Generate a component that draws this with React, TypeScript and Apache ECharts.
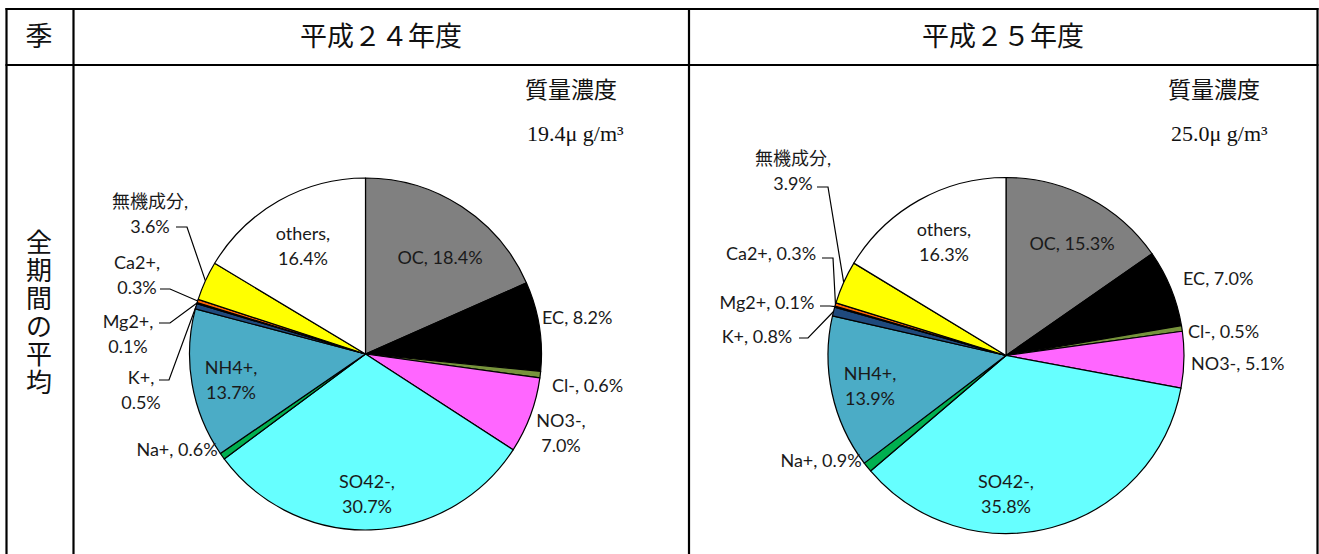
import React, { useEffect, useRef } from "react";
import * as echarts from "echarts";

// Components, in clockwise order from 12 o'clock
const components = ["OC", "EC", "Cl-", "NO3-", "SO42-", "Na+", "NH4+", "K+", "Mg2+", "Ca2+", "無機成分", "others"];
const sliceColors = ["#808080", "#000000", "#77933C", "#FF66FF", "#66FFFF", "#00B050", "#4BACC6", "#1F497D", "#404040", "#FF6600", "#FFFF00", "#FFFFFF"];

// Share of each component (%)
const shareH24 = [18.4, 8.2, 0.6, 7.0, 30.7, 0.6, 13.7, 0.5, 0.1, 0.3, 3.6, 16.4];
const shareH25 = [15.3, 7.0, 0.5, 5.1, 35.8, 0.9, 13.9, 0.8, 0.1, 0.3, 3.9, 16.3];

// Mass concentration (μg/m3)
const massH24 = 19.4;
const massH25 = 25.0;

const yearTitles = ["平成２４年度", "平成２５年度"];
const seasonTitle = "季";
const periodTitle = "全期間の平均";
const massTitle = "質量濃度";

const LABEL_FONT = "Lato, 'Noto Sans CJK JP', sans-serif";
const MINCHO = "'Liberation Serif', 'Noto Sans CJK JP', serif";

type Spot = {
  x: number;
  y: number;
  align: "left" | "center";
  wrap?: boolean;
  inside?: boolean;
  leader?: [number, number, number]; // [labelSideX, elbowX, y]
};

const spotsH24: Spot[] = [
  { x: 440, y: 257, align: "center", inside: true },
  { x: 542, y: 317, align: "left" },
  { x: 552, y: 385, align: "left" },
  { x: 561, y: 432, align: "center", wrap: true },
  { x: 367, y: 493, align: "center", wrap: true, inside: true },
  { x: 177, y: 449, align: "center" },
  { x: 231, y: 379, align: "center", wrap: true, inside: true },
  { x: 141, y: 389, align: "center", wrap: true, leader: [159, 169, 380] },
  { x: 128, y: 333, align: "center", wrap: true, leader: [159, 170, 323] },
  { x: 137, y: 274, align: "center", wrap: true, leader: [160, 170, 289] },
  { x: 150, y: 213, align: "center", wrap: true, leader: [176, 187, 227] },
  { x: 303, y: 245, align: "center", wrap: true, inside: true },
];

const spotsH25: Spot[] = [
  { x: 1072, y: 243, align: "center", inside: true },
  { x: 1183, y: 278, align: "left" },
  { x: 1188, y: 331, align: "left" },
  { x: 1191, y: 363, align: "left" },
  { x: 1006, y: 493, align: "center", wrap: true, inside: true },
  { x: 821, y: 460, align: "center" },
  { x: 870, y: 385, align: "center", wrap: true, inside: true },
  { x: 757, y: 336, align: "center", leader: [799, 808, 338] },
  { x: 767, y: 302, align: "center", leader: [820, 830, 306] },
  { x: 771, y: 253, align: "center", leader: [822, 833, 258] },
  { x: 793, y: 170, align: "center", wrap: true, leader: [817, 828, 187] },
  { x: 944, y: 241, align: "center", wrap: true, inside: true },
];

function pieSeries(values: number[], spots: Spot[], center: [number, number], radius: number) {
  return {
    type: "pie",
    center,
    radius,
    startAngle: 90,
    clockwise: true,
    avoidLabelOverlap: false,
    silent: true,
    emphasis: { disabled: true },
    itemStyle: { borderColor: "#000", borderWidth: 1.2 },
    label: {
      show: true,
      color: "#1a1a1a",
      fontSize: 18,
      lineHeight: 25,
      fontFamily: LABEL_FONT,
      formatter: (p: any) => {
        const s = spots[p.dataIndex];
        return `${p.name},${s.wrap ? "\n" : " "}${Number(p.value).toFixed(1)}%`;
      },
    },
    labelLine: { show: false },
    labelLayout: (p: any) => {
      const s = spots[p.dataIndex];
      const out: any = { x: s.x, y: s.y, align: s.align, verticalAlign: "middle" };
      if (s.leader && p.labelLinePoints) {
        const edge = p.labelLinePoints[0];
        out.labelLinePoints = [
          [edge[0], edge[1]],
          [s.leader[1], s.leader[2]],
          [s.leader[0], s.leader[2]],
        ];
      }
      return out;
    },
    data: values.map((v, i) => ({
      name: components[i],
      value: v,
      itemStyle: { color: sliceColors[i] },
      label: { position: spots[i].inside ? "inside" : "outside" },
      labelLine: {
        show: !!spots[i].leader,
        length: 10,
        length2: 10,
        lineStyle: { color: "#000", width: 1.2 },
      },
    })),
  };
}

function tableGraphics() {
  const ls = { stroke: "#000", lineWidth: 2.2 };
  const vLine = (x: number) => ({ type: "line", shape: { x1: x, y1: 8, x2: x, y2: 560 }, style: ls, silent: true });
  const hLine = (y: number) => ({ type: "line", shape: { x1: 5.5, y1: y, x2: 1318.5, y2: y }, style: ls, silent: true });
  const text = (t: string, x: number, y: number, font: string, extra: any = {}) => ({
    type: "text",
    silent: true,
    style: {
      text: t,
      x,
      y,
      font,
      fill: "#111",
      align: "center",
      verticalAlign: "middle",
      textAlign: "center",
      textVerticalAlign: "middle",
      ...extra,
    },
  });
  const leftText = (t: string, x: number, y: number, font: string, extra: any = {}) =>
    text(t, x, y, font, { align: "left", textAlign: "left", ...extra });

  return [
    vLine(6.5),
    vLine(73.5),
    vLine(689),
    vLine(1317.5),
    hLine(9),
    hLine(65),
    text(seasonTitle, 39, 37, `27px ${MINCHO}`),
    text(yearTitles[0], 381, 37, `27px ${MINCHO}`),
    text(yearTitles[1], 1003, 37, `27px ${MINCHO}`),
    text(periodTitle.split("").join("\n"), 39, 313, `26px ${MINCHO}`, { lineHeight: 28 }),
    leftText(massTitle, 525, 90, `23px ${MINCHO}`),
    leftText(`${massH24.toFixed(1)}μ g/m³`, 527, 133, `22px ${MINCHO}`),
    leftText(massTitle, 1168, 90, `23px ${MINCHO}`),
    leftText(`${massH25.toFixed(1)}μ g/m³`, 1171, 133, `22px ${MINCHO}`),
  ];
}

export default function App() {
  const ref = useRef<HTMLDivElement>(null);

  useEffect(() => {
    if (!ref.current) return;
    const chart = echarts.init(ref.current, undefined, { renderer: "svg" });
    chart.setOption({
      animation: false,
      backgroundColor: "#fff",
      graphic: { elements: tableGraphics() },
      series: [
        pieSeries(shareH24, spotsH24, [365.5, 354], 176),
        pieSeries(shareH25, spotsH25, [1006, 355.5], 178),
      ],
    });
    return () => chart.dispose();
  }, []);

  return (
    <div
      ref={ref}
      style={{ position: "fixed", left: 0, top: 0, width: 1319, height: 554, background: "#fff" }}
    />
  );
}
